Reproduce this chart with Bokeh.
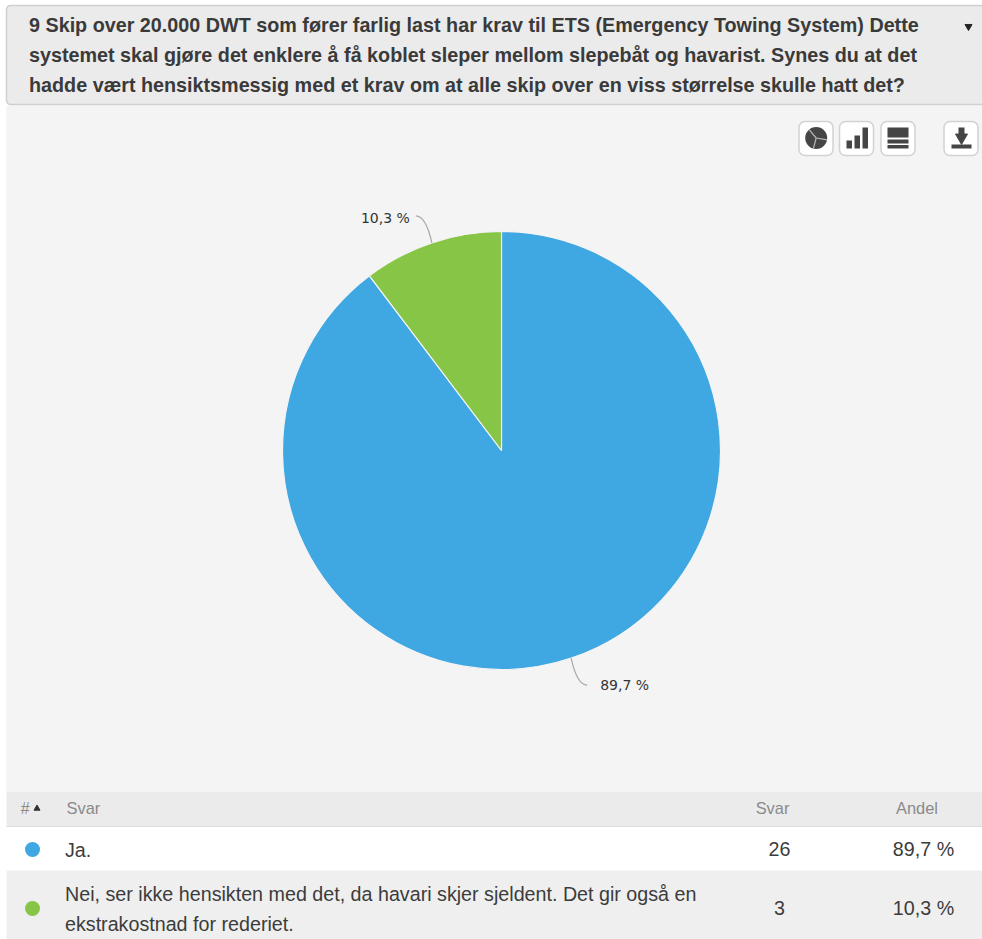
import math
from bokeh.embed import file_html
from bokeh.resources import INLINE
from bokeh.plotting import figure
from bokeh.core.properties import value

W, H = 982, 939

question_lines = [
    "9 Skip over 20.000 DWT som fører farlig last har krav til ETS (Emergency Towing System) Dette",
    "systemet skal gjøre det enklere å få koblet sleper mellom slepebåt og havarist. Synes du at det",
    "hadde vært hensiktsmessig med et krav om at alle skip over en viss størrelse skulle hatt det?",
]
answer_lines = [
    ["Ja."],
    ["Nei, ser ikke hensikten med det, da havari skjer sjeldent. Det gir også en",
     "ekstrakostnad for rederiet."],
]
counts = [26, 3]
shares = [89.7, 10.3]
share_labels = ["89,7 %", "10,3 %"]
colors = ["#3fa7e1", "#86c546"]
table_heads = ["#", "Svar", "Svar", "Andel"]
icon_bars = [8, 13, 21]

def Y(py):
    return H - py

p = figure(width=W, height=H, x_range=(0, W), y_range=(0, H),
           output_backend="svg", toolbar_location=None,
           min_border=0, outline_line_color=None, background_fill_color="white")
p.xaxis.visible = False
p.yaxis.visible = False
p.grid.visible = False

def band(x0, x1, y0, y1, fill, line=None, radius=0, width=1):
    p.quad(left=[x0], right=[x1], top=[Y(y0)], bottom=[Y(y1)], fill_color=fill,
           line_color=line, line_width=width, border_radius=radius)

def label(x, y, s, size, color="#333333", font="Liberation Sans", style="normal", align="left"):
    p.text(x=[x], y=[Y(y)], text=[s], text_font=value(font), text_font_size=f"{size}px",
           text_font_style=style, text_color=color, text_align=align, text_baseline="middle")

# Panels
band(6, 990, 105, 791, "#f4f4f4")
band(6, 990, 5, 104, "#ebebeb", "#cfcfcf", 4, 1.5)
band(6, 990, 791, 826, "#ebebeb")
band(6, 990, 826, 870, "#ffffff")
band(6, 990, 870, 945, "#efefef")
p.line([6, W], [Y(826), Y(826)], line_color="#dddddd", line_width=1)

# Question heading
for i, line in enumerate(question_lines):
    label(28.5, 24.5 + 30 * i, line, 19.75, "#3a3a3a", style="bold")
p.scatter([968], [Y(26)], marker="inverted_triangle", size=7, color="#222222")

# Toolbar buttons
for bx in (815.5, 856, 897.5, 960.5):
    band(bx - 17, bx + 17, 121, 155, "#ffffff", "#d2d2d2", 6, 1.5)
icon_dark = "#454545"
p.circle([815.7], [Y(137.5)], radius=11, fill_color=icon_dark, line_color=None)
for deg in (130, -10, -105):
    ang = math.radians(deg)
    p.line([815.7, 815.7 + 11 * math.cos(ang)], [Y(137.5), Y(137.5) + 11 * math.sin(ang)],
           line_color="#b8b8b8", line_width=1.2)
for i, h in enumerate(icon_bars):
    band(846 + 8 * i, 851.5 + 8 * i, 148 - h, 148, icon_dark)
band(887, 908, 127, 137, icon_dark)
band(887, 908, 139, 143, icon_dark)
band(887, 908, 144.5, 148, icon_dark)
band(958, 964, 127, 134, icon_dark)
p.scatter([961], [Y(137)], marker="inverted_triangle", size=12, color=icon_dark)
band(951, 971, 144, 148, icon_dark)

# Pie, clockwise from twelve o'clock
cx, cy, r = 501, 450, 219
total = sum(shares)
start = math.pi / 2
mids = []
for share, color in zip(shares, colors):
    sweep = 2 * math.pi * share / total
    p.wedge(x=[cx], y=[Y(cy)], radius=r, start_angle=start, end_angle=start - sweep,
            direction="clock", fill_color=color, line_color="#f4f4f4", line_width=1.2)
    mids.append(start - sweep / 2)
    start -= sweep

# Leader lines and slice labels
for mid, text, side, gap in zip(mids, share_labels, (1, -1), (13, 6)):
    ax, ay = cx + r * math.cos(mid), Y(cy) + r * math.sin(mid)
    vert = math.copysign(1, math.sin(mid))
    ex, ey = ax + side * 16, ay + vert * 27
    ctrl_x, ctrl_y = ax + side * 6, ay + vert * 27
    p.quadratic(x0=[ax], y0=[ay], x1=[ex], y1=[ey], cx=[ctrl_x], cy=[ctrl_y],
                line_color="#a8a8a8", line_width=1.2)
    label(ex + side * gap, H - ey + (0 if vert < 0 else 2), text, 14, "#333333", font="DejaVu Sans",
          align="left" if side > 0 else "right")

# Answer table
label(20, 807.5, table_heads[0], 16, "#8a8a8a", style="italic")
p.scatter([36.5], [Y(808)], marker="triangle", size=6, color="#333333")
label(66, 807.5, table_heads[1], 16.4, "#8a8a8a")
label(772, 807.5, table_heads[2], 16.4, "#8a8a8a", align="center")
label(916.5, 807.5, table_heads[3], 16.4, "#8a8a8a", align="center")

row_mid = [849, 908]
for i, (lines, n, txt, color) in enumerate(zip(answer_lines, counts, share_labels, colors)):
    p.circle([32], [Y(row_mid[i])], radius=7.5, fill_color=color, line_color=None)
    top = row_mid[i] - 14.5 * (len(lines) - 1)
    for j, line in enumerate(lines):
        label(64.5, top + 29.5 * j, line, 19.7, "#3c3c3c")
    label(779, row_mid[i] - 0.5, str(n), 19.7, "#3c3c3c", align="center")
    label(923, row_mid[i] - 0.5, txt, 19.7, "#3c3c3c", align="center")

open("out.html", "w").write(file_html(p, INLINE))
